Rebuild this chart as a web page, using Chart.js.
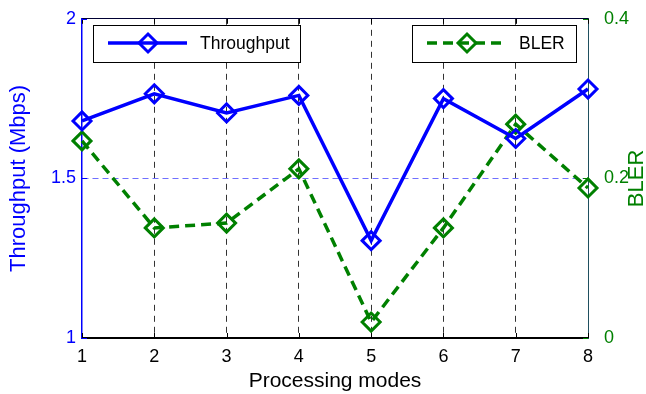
<!DOCTYPE html>
<html>
<head>
<meta charset="utf-8">
<script src="https://cdn.jsdelivr.net/npm/chart.js@4"></script>
<style>
  html, body { margin: 0; padding: 0; background: #fff; }
  #wrap { width: 646px; height: 394px; }
</style>
</head>
<body>
<div id="wrap"><canvas id="myChart" width="646" height="394"></canvas></div>
<script>
const modes = ["1", "2", "3", "4", "5", "6", "7", "8"];
const throughput = [1.68, 1.765, 1.705, 1.76, 1.305, 1.75, 1.625, 1.78];
const bler = [0.247, 0.138, 0.144, 0.212, 0.02, 0.138, 0.268, 0.188];
const leftTicks = [1, 1.5, 2];
const rightTicks = [0, 0.2, 0.4];

const FONT = "'Liberation Sans', Arial, sans-serif";
const BLUE = "#0000ff";
const GREEN = "#008000";

function drawMarker(ctx, x, y, r, color) {
  ctx.save();
  ctx.strokeStyle = color;
  ctx.lineWidth = 3;
  ctx.beginPath();
  ctx.moveTo(x, y - r);
  ctx.lineTo(x + r, y);
  ctx.lineTo(x, y + r);
  ctx.lineTo(x - r, y);
  ctx.closePath();
  ctx.stroke();
  ctx.restore();
}

const extras = {
  id: "extras",
  beforeDatasetsDraw(chart) {
    // small inward tick marks, matlab style
    const ctx = chart.ctx;
    const area = chart.chartArea;
    const sx = chart.scales.x;
    const sy = chart.scales.y;
    const sy2 = chart.scales.y2;
    ctx.save();
    ctx.lineWidth = 1;
    ctx.strokeStyle = "#000";
    modes.forEach(function (m, i) {
      const px = Math.round(sx.getPixelForValue(i)) + 0.5;
      ctx.beginPath();
      ctx.moveTo(px, area.bottom);
      ctx.lineTo(px, area.bottom - 5);
      ctx.moveTo(px, area.top);
      ctx.lineTo(px, area.top + 5);
      ctx.stroke();
    });
    ctx.strokeStyle = BLUE;
    leftTicks.forEach(function (v) {
      const py = Math.round(sy.getPixelForValue(v)) + 0.5;
      ctx.beginPath();
      ctx.moveTo(area.left, py);
      ctx.lineTo(area.left + 5, py);
      ctx.stroke();
    });
    ctx.strokeStyle = GREEN;
    rightTicks.forEach(function (v) {
      const py = Math.round(sy2.getPixelForValue(v)) + 0.5;
      ctx.beginPath();
      ctx.moveTo(area.right, py);
      ctx.lineTo(area.right - 5, py);
      ctx.stroke();
    });
    ctx.restore();
  },
  afterDraw(chart) {
    const ctx = chart.ctx;
    const area = chart.chartArea;

    // legend boxes
    const boxes = [
      { x: 93, w: 207, label: "Throughput", color: BLUE, dash: [] },
      { x: 412, w: 164, label: "BLER", color: GREEN, dash: [10, 6] }
    ];
    boxes.forEach(function (b) {
      ctx.save();
      ctx.fillStyle = "#fff";
      ctx.fillRect(b.x, 25, b.w, 37);
      ctx.strokeStyle = "#000";
      ctx.lineWidth = 1;
      ctx.strokeRect(b.x + 0.5, 25.5, b.w, 37);
      ctx.strokeStyle = b.color;
      ctx.lineWidth = 3.5;
      ctx.setLineDash(b.dash);
      ctx.beginPath();
      ctx.moveTo(b.x + 15, 43);
      ctx.lineTo(b.x + 94, 43);
      ctx.stroke();
      ctx.setLineDash([]);
      drawMarker(ctx, b.x + 55, 43, 9, b.color);
      ctx.fillStyle = "#000";
      ctx.font = "17.5px " + FONT;
      ctx.textBaseline = "middle";
      ctx.fillText(b.label, b.x + 107, 44);
      ctx.restore();
    });

    // right axis title, reading bottom to top
    ctx.save();
    ctx.translate(637, (area.top + area.bottom) / 2);
    ctx.rotate(-Math.PI / 2);
    ctx.fillStyle = GREEN;
    ctx.font = "22px " + FONT;
    ctx.textAlign = "center";
    ctx.textBaseline = "middle";
    ctx.fillText("BLER", 0, 0);
    ctx.restore();
  }
};

new Chart(document.getElementById("myChart"), {
  type: "line",
  data: {
    labels: modes,
    datasets: [
      {
        label: "Throughput",
        data: throughput,
        yAxisID: "y",
        borderColor: BLUE,
        borderWidth: 3.5,
        pointStyle: "rectRot",
        pointRadius: 9,
        pointBorderWidth: 3,
        pointBorderColor: BLUE,
        pointBackgroundColor: "rgba(0,0,0,0)",
        tension: 0
      },
      {
        label: "BLER",
        data: bler,
        yAxisID: "y2",
        borderColor: GREEN,
        borderWidth: 3.5,
        borderDash: [10, 6],
        pointStyle: "rectRot",
        pointRadius: 9,
        pointBorderWidth: 3,
        pointBorderColor: GREEN,
        pointBackgroundColor: "rgba(0,0,0,0)",
        tension: 0
      }
    ]
  },
  options: {
    responsive: false,
    animation: false,
    layout: { padding: 0 },
    plugins: { legend: { display: false }, tooltip: { enabled: false } },
    scales: {
      x: {
        type: "category",
        offset: false,
        position: "bottom",
        afterFit: function (s) { s.height = 56; },
        grid: {
          drawTicks: false,
          color: function (c) {
            return c.index === 0 || c.index === modes.length - 1 ? "rgba(0,0,0,0)" : "#333";
          },
          lineWidth: 1
        },
        border: { color: "#000", width: 2, dash: [6, 5] },
        ticks: { color: "#000", font: { family: FONT, size: 18 }, padding: 8 },
        title: {
          display: true,
          text: "Processing modes",
          color: "#000",
          font: { family: FONT, size: 21 },
          padding: { top: 1, bottom: 0 }
        }
      },
      xTop: {
        type: "category",
        offset: false,
        position: "top",
        afterFit: function (s) { s.height = 18; },
        grid: { display: false },
        border: { color: "#000033", width: 1 },
        ticks: { display: false }
      },
      y: {
        position: "left",
        min: 1,
        max: 2,
        afterFit: function (s) { s.width = 82; },
        afterBuildTicks: function (s) { s.ticks = leftTicks.map(function (v) { return { value: v }; }); },
        grid: {
          drawTicks: false,
          color: function (c) {
            return c.tick && c.tick.value === 1.5 ? "#6f6fff" : "rgba(0,0,0,0)";
          },
          lineWidth: 1
        },
        border: { color: BLUE, width: 1.5, dash: [6, 4] },
        ticks: {
          color: BLUE,
          font: { family: FONT, size: 18 },
          padding: 6,
          callback: function (v) { return String(v); }
        },
        title: {
          display: true,
          text: "Throughput (Mbps)",
          color: BLUE,
          font: { family: FONT, size: 22 },
          padding: { bottom: 0, top: 6 }
        }
      },
      y2: {
        position: "right",
        min: 0,
        max: 0.4,
        afterFit: function (s) { s.width = 58; },
        afterBuildTicks: function (s) { s.ticks = rightTicks.map(function (v) { return { value: v }; }); },
        grid: { display: false },
        border: { color: "#1f4f5f", width: 1 },
        ticks: {
          color: GREEN,
          font: { family: FONT, size: 18 },
          padding: 8,
          callback: function (v) { return String(v); }
        }
      }
    }
  },
  plugins: [extras]
});
</script>
</body>
</html>
